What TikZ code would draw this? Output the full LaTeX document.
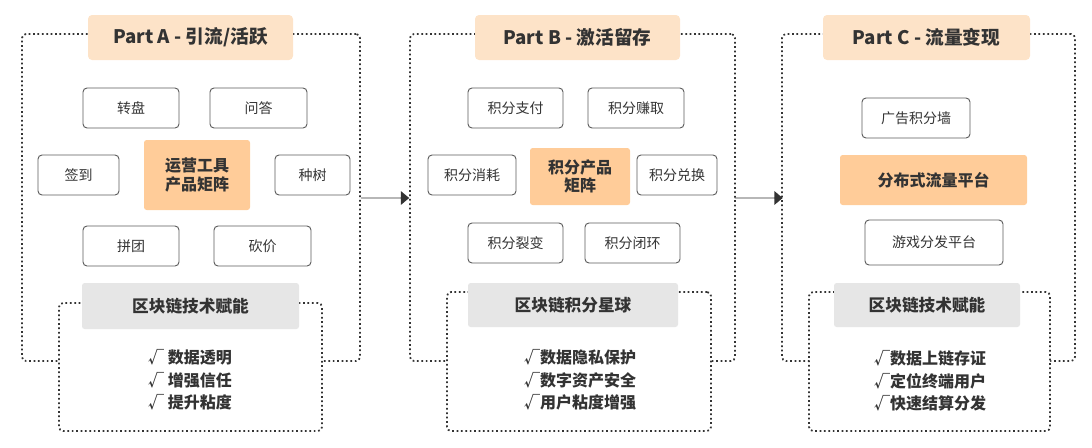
\documentclass[tikz,border=0pt]{standalone}
\usepackage{fontspec}
\setmainfont{Noto Sans CJK SC}
\usetikzlibrary{shapes.arrows,calc}
\definecolor{peach}{HTML}{FDE3C8}
\definecolor{orng}{HTML}{FFCC99}
\definecolor{grayh}{HTML}{E6E6E6}
\definecolor{txt}{HTML}{333333}
\newcommand\pbox[7]{\node[#6, minimum width={(#4-#2)*0.75pt}, minimum height={(#5-#3)*0.75pt}] (#1) at ({(#2+#4)/2},{(#3+#5)/2}) {#7};}
\tikzset{
 outer/.style={draw=txt, dotted, line width=1.3pt, rounded corners=3pt, inner sep=0pt},
 inner/.style={outer, fill=white},
 ttl/.style={fill=peach, rounded corners=3pt, text=txt, font=\fontsize{14}{16}\selectfont\bfseries, inner sep=0pt},
 hdr/.style={fill=grayh, rounded corners=2pt, text=txt, font=\fontsize{12.5}{14}\selectfont\bfseries, inner sep=0pt},
 cen/.style={fill=orng, rounded corners=2pt, text=txt, font=\fontsize{12}{14}\selectfont\bfseries, align=center, inner sep=0pt},
 bx/.style={draw=txt!80, line width=0.7pt, rounded corners=3pt, text=txt, font=\fontsize{10.5}{12}\selectfont, inner sep=0pt},
 chk/.style={text=txt, font=\fontsize{12}{14}\selectfont\bfseries, align=left, inner sep=0pt},
 arr/.style={single arrow, fill=txt, single arrow head extend=5pt, minimum height=36pt, minimum width=8pt, inner sep=0pt, single arrow tip angle=80}
}
\begin{document}
\begin{tikzpicture}[x=0.75pt,y=-0.75pt]
\useasboundingbox (0,0) rectangle (1092,447);
% Panel A
\pbox{oA}{22}{34}{360}{361}{outer}{}
\pbox{iA}{59}{303}{322}{431}{inner}{}
\pbox{tA}{88}{15}{293}{60}{ttl}{Part A - 引流/活跃}
\pbox{a1}{83}{88}{179}{128}{bx}{转盘}
\pbox{a2}{210}{88}{307}{128}{bx}{问答}
\pbox{a3}{38}{155}{119}{195}{bx}{签到}
\pbox{a4}{144}{140}{250}{210}{cen}{运营工具\\产品矩阵}
\pbox{a5}{275}{155}{350}{195}{bx}{种树}
\pbox{a6}{83}{226}{179}{266}{bx}{拼团}
\pbox{a7}{214}{226}{311}{266}{bx}{砍价}
\pbox{hA}{82}{283}{299}{329}{hdr}{区块链技术赋能}
\node[chk] (cA) at (190,380) {√ 数据透明\\[3pt]√ 增强信任\\[3pt]√ 提升粘度};
% Panel B
\pbox{oB}{410}{34}{735}{361}{outer}{}
\pbox{iB}{447}{292}{711}{431}{inner}{}
\pbox{tB}{475}{15}{680}{60}{ttl}{Part B - 激活留存}
\pbox{b1}{468}{88}{563}{128}{bx}{积分支付}
\pbox{b2}{588}{88}{684}{128}{bx}{积分赚取}
\pbox{b3}{428}{155}{516}{195}{bx}{积分消耗}
\pbox{b4}{530}{148}{630}{205}{cen}{积分产品\\矩阵}
\pbox{b5}{637}{155}{717}{195}{bx}{积分兑换}
\pbox{b6}{468}{223}{563}{263}{bx}{积分裂变}
\pbox{b7}{585}{223}{680}{263}{bx}{积分闭环}
\pbox{hB}{468}{283}{678}{327}{hdr}{区块链积分星球}
\node[chk] (cB) at (580,380) {√数据隐私保护\\[3pt]√数字资产安全\\[3pt]√用户粘度增强};
% Panel C
\pbox{oC}{782}{34}{1075}{361}{outer}{}
\pbox{iC}{809}{292}{1050}{431}{inner}{}
\pbox{tC}{823}{15}{1030}{60}{ttl}{Part C - 流量变现}
\pbox{c1}{862}{98}{970}{138}{bx}{广告积分墙}
\pbox{c2}{840}{155}{1027}{205}{cen}{分布式流量平台}
\pbox{c3}{865}{220}{1003}{265}{bx}{游戏分发平台}
\pbox{hC}{834}{283}{1020}{327}{hdr}{区块链技术赋能}
\node[chk] (cC) at (930,381) {√数据上链存证\\[3pt]√定位终端用户\\[3pt]√快速结算分发};
% arrows
\path (oA.east|-0,198) coordinate (e1) (oB.west|-0,198) coordinate (w1);
\node[arr] (ar1) at ($(e1)!0.5!(w1)$) {};
\path (oB.east|-0,198) coordinate (e2) (oC.west|-0,198) coordinate (w2);
\node[arr] (ar2) at ($(e2)!0.5!(w2)$) {};
\end{tikzpicture}
\end{document}
